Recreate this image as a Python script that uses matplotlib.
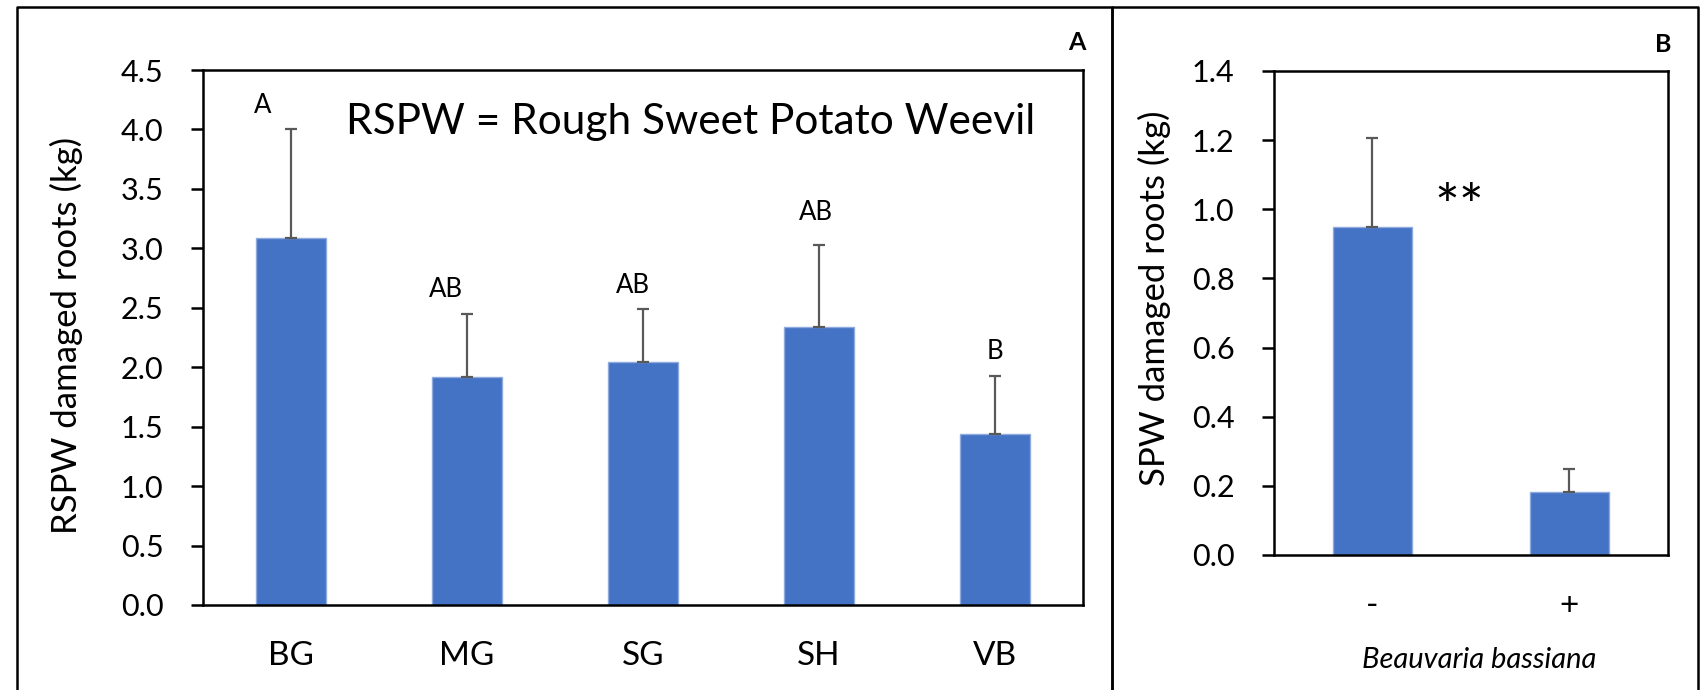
import matplotlib
matplotlib.use("Agg")
import matplotlib.pyplot as plt
from matplotlib.lines import Line2D

plt.rcParams['font.family'] = ['Lato', 'DejaVu Sans']

# panel A: rough sweet potato weevil damage per treatment
cats_a = ['BG', 'MG', 'SG', 'SH', 'VB']
mean_a = [3.09, 1.92, 2.04, 2.34, 1.44]
err_a = [0.91, 0.53, 0.45, 0.69, 0.49]
letters_a = ['A', 'AB', 'AB', 'AB', 'B']
letter_x_a = [-0.16, -0.12, -0.06, -0.02, 0.0]
letter_y_a = [4.2, 2.65, 2.69, 3.30, 2.13]

# panel B: sweet potato weevil damage with / without Beauvaria bassiana
cats_b = ['-', '+']
mean_b = [0.95, 0.183]
err_b = [0.257, 0.067]

W, H = 1706, 690
fig = plt.figure(figsize=(W / 100, H / 100), dpi=100)

blue = '#4472C4'
edge = '#8FAADC'
gray = '#595959'


def px(x, y):
    return x / W, 1 - y / H


def style(ax):
    for s in ax.spines.values():
        s.set_linewidth(1.8)
        s.set_color('black')
    ax.tick_params(axis='y', direction='out', length=8.5, width=1.8,
                   labelsize=22, pad=20)
    ax.tick_params(axis='x', length=0, labelsize=24, pad=26)


# --- panel A
axa = fig.add_axes([203 / W, 1 - 605 / H, 880 / W, 535 / H])
xa = range(len(cats_a))
axa.bar(xa, mean_a, width=0.4, color=blue, edgecolor=edge, linewidth=1)
axa.errorbar(xa, mean_a, yerr=[[0] * len(err_a), err_a], fmt='none',
             ecolor=gray, elinewidth=1.6, capsize=4.3, capthick=1.6)
for i, lab in enumerate(letters_a):
    axa.text(i + letter_x_a[i], letter_y_a[i], lab, ha='center', va='center',
             fontsize=18.5)
axa.set_xlim(-0.5, 4.5)
axa.set_ylim(0, 4.5)
axa.set_yticks([0, 0.5, 1.0, 1.5, 2.0, 2.5, 3.0, 3.5, 4.0, 4.5])
axa.yaxis.set_major_formatter(lambda v, p: f'{v:.1f}')
axa.set_xticks(list(xa))
axa.set_xticklabels(cats_a)
style(axa)
fig.text(346 / W, 1 - 122 / H, 'RSPW = Rough Sweet Potato Weevil',
         ha='left', va='center', fontsize=30.5)
fig.text(*px(66, 335), 'RSPW damaged roots (kg)', rotation=90,
         ha='center', va='center', fontsize=25)
fig.text(*px(1077, 42), 'A', ha='center', va='center', fontsize=18,
         fontweight='bold')

# --- panel B
axb = fig.add_axes([1274 / W, 1 - 555 / H, 394 / W, 484 / H])
xb = range(len(cats_b))
axb.bar(xb, mean_b, width=0.4, color=blue, edgecolor=edge, linewidth=1)
axb.errorbar(xb, mean_b, yerr=[[0] * len(err_b), err_b], fmt='none',
             ecolor=gray, elinewidth=1.6, capsize=4.3, capthick=1.6)
axb.text(0.44, 1.0, '**', ha='center', va='center', fontsize=42)
axb.set_xlim(-0.5, 1.5)
axb.set_ylim(0, 1.4)
axb.set_yticks([0, 0.2, 0.4, 0.6, 0.8, 1.0, 1.2, 1.4])
axb.yaxis.set_major_formatter(lambda v, p: f'{v:.1f}')
axb.set_xticks(list(xb))
axb.set_xticklabels(cats_b)
style(axb)
fig.text(*px(1154, 298), 'SPW damaged roots (kg)', rotation=90,
         ha='center', va='center', fontsize=25)
fig.text(*px(1479, 660), 'Beauvaria bassiana', ha='center', va='center',
         fontsize=21, style='italic')
fig.text(*px(1663, 45), 'B', ha='center', va='center', fontsize=18,
         fontweight='bold')

# panel frames
frame = dict(color='black', linewidth=1.8, transform=fig.transFigure)
for x0, x1 in [(17, 1112), (1112, 1698)]:
    fig.add_artist(Line2D([px(x0, 0)[0], px(x0, 0)[0], px(x1, 0)[0], px(x1, 0)[0]],
                          [0, px(0, 7)[1], px(0, 7)[1], 0], **frame))

fig.savefig('out.png', dpi=100)
